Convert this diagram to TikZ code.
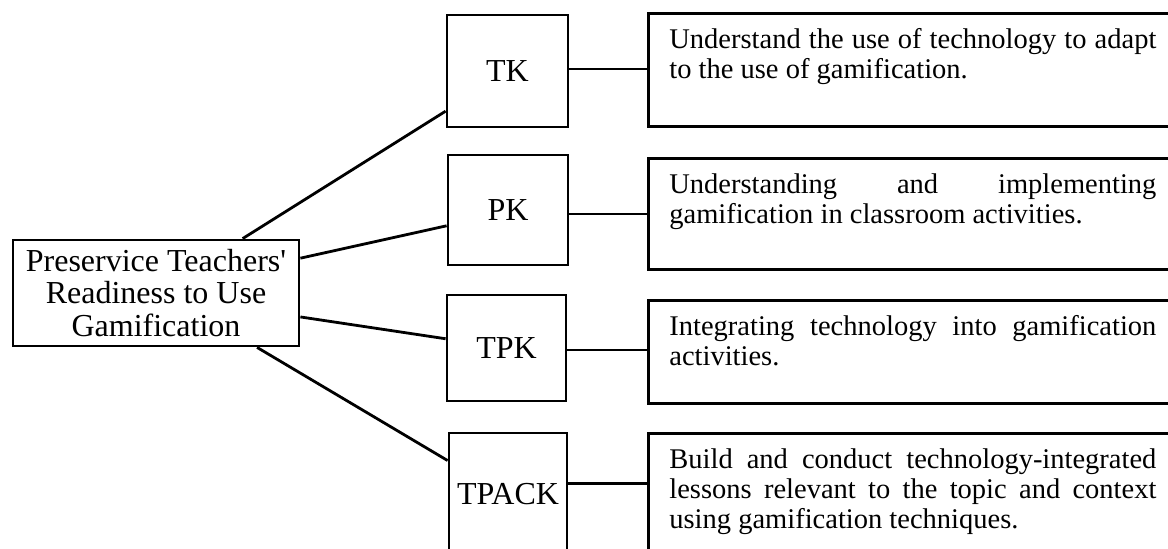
\documentclass[tikz,border=0pt]{standalone}
\usepackage{fontspec}
\setmainfont{Liberation Serif}[Ligatures=TeXOff, HyphenChar=None]
\usetikzlibrary{calc}
\hyphenpenalty=10000
\exhyphenpenalty=10000
\tolerance=10000
\begin{document}
\begin{tikzpicture}[x=1pt,y=-1pt,line width=2.8pt,
  sq/.style={draw, inner sep=0pt, font=\fontsize{32}{36}\selectfont},
  mainbox/.style={draw, inner sep=0pt, align=center, font=\fontsize{32}{32.5}\selectfont},
  descbox/.style={draw, anchor=north west, minimum width=545pt, inner sep=0pt},
  desc/.style={anchor=north west, inner sep=0pt, text width=487pt, align=justify,
    font=\fontsize{28.5}{30}\selectfont,
    execute at begin node={\hyphenpenalty=10000\relax\exhyphenpenalty=10000\relax\tolerance=10000\relax}},
  conn/.style={draw}]
\useasboundingbox (0,0) rectangle (1168,549);
\clip (0,0) rectangle (1168,549);

% main box
\node[mainbox, minimum width=286pt, minimum height=106pt] (main) at (156,293)
  {Preservice Teachers'\\Readiness to Use\\Gamification};

% square boxes
\node[sq, minimum width=121pt, minimum height=112pt] (tk) at (507.5,71) {TK};
\node[sq, minimum width=120pt, minimum height=110pt] (pk) at (508,210) {PK};
\node[sq, minimum width=119pt, minimum height=106pt] (tpk) at (506.5,348) {TPK};
\node[sq, minimum width=118pt, minimum height=123pt] (tpack) at (508,494.5) {TPACK};

% description boxes
\node[descbox, minimum height=113pt] (b1) at (647,12) {};
\node[descbox, minimum height=111pt] (b2) at (647,157) {};
\node[descbox, minimum height=103pt] (b3) at (647,299) {};
\node[descbox, minimum height=130pt] (b4) at (647,432) {};

\node[desc] (t1) at ($(b1.north west)+(21,15)$)
  {Understand the use of technology to adapt to the use of gamification.};
\node[desc] (t2) at ($(b2.north west)+(21,15)$)
  {Understanding and implementing gamification in classroom activities.};
\node[desc] (t3) at ($(b3.north west)+(21,15)$)
  {Integrating technology into gamification activities.};
\node[desc] (t4) at ($(b4.north west)+(21,15)$)
  {Build and conduct technology-integrated lessons relevant to the topic and context using gamification techniques.};

% connectors main -> squares
\coordinate (m1) at ($(main.north west)!0.80!(main.north east)$);
\coordinate (k1) at ($(tk.north west)!0.85!(tk.south west)$);
\coordinate (m2) at ($(main.north east)!0.18!(main.south east)$);
\coordinate (k2) at ($(pk.north west)!0.64!(pk.south west)$);
\coordinate (m3) at ($(main.north east)!0.72!(main.south east)$);
\coordinate (k3) at ($(tpk.north west)!0.415!(tpk.south west)$);
\coordinate (m4) at ($(main.south west)!0.85!(main.south east)$);
\coordinate (k4) at ($(tpack.north west)!0.23!(tpack.south west)$);
\draw[conn] (m1) -- (k1);
\draw[conn] (m2) -- (k2);
\draw[conn] (m3) -- (k3);
\draw[conn] (m4) -- (k4);

% connectors squares -> descriptions
\draw[conn] ([yshift=2pt]tk.east) -- ([yshift=2pt]tk.east -| b1.west);
\draw[conn] ([yshift=-4pt]pk.east) -- ([yshift=-4pt]pk.east -| b2.west);
\draw[conn] ([yshift=-2pt]tpk.east) -- ([yshift=-2pt]tpk.east -| b3.west);
\draw[conn] ([yshift=11pt]tpack.east) -- ([yshift=11pt]tpack.east -| b4.west);
\end{tikzpicture}
\end{document}
